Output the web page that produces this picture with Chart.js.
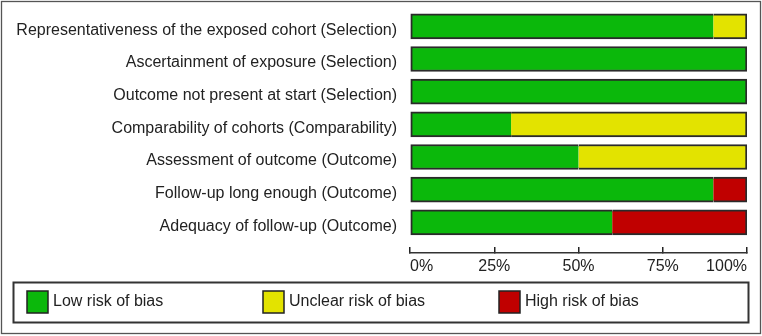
<!DOCTYPE html>
<html>
<head>
<meta charset="utf-8">
<script src="https://cdn.jsdelivr.net/npm/chart.js@4"></script>
<style>
  body { margin: 0; background: #fff; }
</style>
</head>
<body>
<canvas id="robChart" width="762" height="336"></canvas>
<script>
// Risk of bias summary: percent of studies per judgement
const categories = [
  "Representativeness of the exposed cohort (Selection)",
  "Ascertainment of exposure (Selection)",
  "Outcome not present at start (Selection)",
  "Comparability of cohorts (Comparability)",
  "Assessment of outcome (Outcome)",
  "Follow-up long enough (Outcome)",
  "Adequacy of follow-up (Outcome)",
];
const lowRisk = [90, 100, 100, 30, 50, 90, 60];
const unclearRisk = [10, 0, 0, 70, 50, 0, 0];
const highRisk = [0, 0, 0, 0, 0, 10, 40];
const xTicks = [0, 25, 50, 75, 100];

const seriesNames = ["Low risk of bias", "Unclear risk of bias", "High risk of bias"];
const seriesColors = ["#0bb80b", "#e3e300", "#c00000"];
const allSeries = [lowRisk, unclearRisk, highRisk];

Chart.defaults.font.family = "'Liberation Sans', Arial, sans-serif";
Chart.defaults.font.size = 16;
Chart.defaults.color = "#222";

// only outline the outer edges of each stacked row
function segmentBorder(ctx) {
  const d = ctx.datasetIndex, i = ctx.dataIndex;
  const before = allSeries.slice(0, d).every((s) => s[i] === 0);
  const after = allSeries.slice(d + 1).every((s) => s[i] === 0);
  return { top: 2, bottom: 2, left: before ? 2 : 0, right: after ? 2 : 0 };
}

// boxed legend + outer frame
const frameAndLegend = {
  id: "frameAndLegend",
  afterDraw(chart) {
    const c = chart.ctx;
    c.save();
    c.strokeStyle = "#555";
    c.lineWidth = 1.3;
    c.strokeRect(1.5, 1.5, 759, 332);

    c.strokeStyle = "#333";
    c.lineWidth = 2;
    c.strokeRect(13.5, 282.5, 735, 40);

    c.font = "16px 'Liberation Sans', Arial, sans-serif";
    c.textBaseline = "middle";
    chart.data.datasets.forEach((ds, k) => {
      const x = 27 + k * 236;
      c.fillStyle = ds.backgroundColor;
      c.fillRect(x, 291, 21, 22);
      c.strokeStyle = "#222";
      c.lineWidth = 1.5;
      c.strokeRect(x, 291, 21, 22);
      c.fillStyle = "#222";
      c.fillText(ds.label, x + 26, 302);
    });
    c.restore();
  },
};

const ctx = document.getElementById("robChart").getContext("2d");
const chart = new Chart(ctx, {
  type: "bar",
  data: {
    datasets: allSeries.map((vals, k) => ({
      label: seriesNames[k],
      data: vals.map((v, i) => ({ x: v, y: i })),
      backgroundColor: seriesColors[k],
      borderColor: "#2a2a2a",
      borderWidth: segmentBorder,
      borderSkipped: false,
      barThickness: 25,
    })),
  },
  options: {
    indexAxis: "y",
    responsive: false,
    animation: false,
    layout: { padding: { top: 10, right: 15, bottom: 58, left: 0 } },
    scales: {
      x: {
        stacked: true,
        min: 0,
        max: 100,
        afterFit: (s) => { s.height = 25; s.paddingLeft = 0; s.paddingRight = 0; },
        afterBuildTicks: (s) => { s.ticks = xTicks.map((v) => ({ value: v })); },
        ticks: {
          align: "inner",
          padding: 10,
          callback: (v) => v + "%",
        },
        grid: { drawOnChartArea: false, tickLength: -6, color: "#222", lineWidth: 1.5 },
        border: { color: "#333", width: 1.5 },
      },
      y: {
        type: "linear",
        stacked: true,
        reverse: true,
        offset: false,
        min: -0.5,
        max: 6.94,
        afterFit: (s) => { s.width = 410; s.paddingTop = 0; s.paddingBottom = 0; },
        afterBuildTicks: (s) => { s.ticks = categories.map((_, i) => ({ value: i })); },
        ticks: {
          padding: 13,
          labelOffset: 4,
          callback: (v) => categories[v],
        },
        grid: { display: false, drawTicks: false, offset: false },
        border: { display: false },
      },
    },
    plugins: {
      legend: { display: false },
      tooltip: { enabled: false },
    },
  },
  plugins: [frameAndLegend],
});
</script>
</body>
</html>
